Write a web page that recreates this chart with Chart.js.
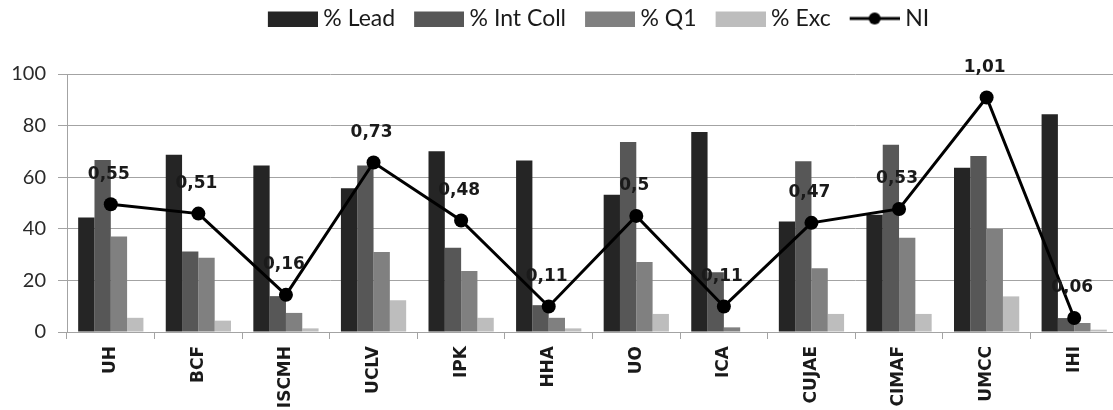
<!DOCTYPE html>
<html>
<head>
<meta charset="utf-8">
<script src="https://cdn.jsdelivr.net/npm/chart.js@4/dist/chart.umd.min.js"></script>
<style>
  html, body { margin: 0; padding: 0; background: #fff; overflow: hidden; }
</style>
</head>
<body>
<canvas id="chart" width="1125" height="410"></canvas>
<script>
const categories = ["UH", "BCF", "ISCMH", "UCLV", "IPK", "HHA", "UO", "ICA", "CUJAE", "CIMAF", "UMCC", "IHI"];
const leadValues = [44.4, 68.7, 64.5, 55.7, 70.1, 66.5, 53.2, 77.5, 42.8, 45.4, 63.7, 84.4];
const intCollValues = [66.7, 31.2, 13.9, 64.5, 32.7, 10.4, 73.6, 23.2, 66.2, 72.6, 68.2, 5.4];
const q1Values = [37.0, 28.8, 7.4, 31.0, 23.6, 5.5, 27.1, 1.8, 24.7, 36.5, 39.9, 3.5];
const excValues = [5.5, 4.4, 1.4, 12.3, 5.5, 1.4, 7.0, 0, 7.0, 7.0, 13.8, 0.9];
const niValues = [0.55, 0.51, 0.16, 0.73, 0.48, 0.11, 0.5, 0.11, 0.47, 0.53, 1.01, 0.06];
const yTicks = [0, 20, 40, 60, 80, 100];

const gridColor = "#a3a3a3";
const barColors = ["#252525", "#575757", "#808080", "#bdbdbd"];

// legend swatch: drawn with empty room on the left so items spread out
// while the text stays close to its box
function swatch(color, isLine) {
  const c = document.createElement("canvas");
  c.width = 68;
  c.height = 16;
  const g = c.getContext("2d");
  if (isLine) {
    g.strokeStyle = "#000";
    g.lineWidth = 3;
    g.beginPath();
    g.moveTo(18, 8);
    g.lineTo(68, 8);
    g.stroke();
    g.fillStyle = "#000";
    g.beginPath();
    g.arc(43, 8, 6, 0, Math.PI * 2);
    g.fill();
  } else {
    g.fillStyle = color;
    g.fillRect(18, 1, 50, 15);
  }
  return c;
}

const niLabels = {
  id: "niLabels",
  afterDatasetsDraw(chart) {
    const ctx = chart.ctx;
    const meta = chart.getDatasetMeta(4);
    ctx.save();
    ctx.font = "bold 17px 'DejaVu Sans'";
    ctx.fillStyle = "#1a1a1a";
    ctx.textAlign = "center";
    ctx.textBaseline = "middle";
    meta.data.forEach((pt, i) => {
      ctx.fillText(String(niValues[i]).replace(".", ","), pt.x - 2, pt.y - 30);
    });
    ctx.restore();
  },
};

// extra space under the legend
const legendGap = {
  id: "legendGap",
  beforeLayout(chart) {
    const lg = chart.legend;
    if (lg && !lg._gapPatched) {
      const fit = lg.fit;
      lg.fit = function () {
        fit.call(this);
        this.height += 34;
      };
      lg._gapPatched = true;
    }
  },
};

new Chart(document.getElementById("chart"), {
  type: "bar",
  data: {
    labels: categories,
    datasets: [
      { label: "% Lead", data: leadValues, backgroundColor: barColors[0] },
      { label: "% Int Coll", data: intCollValues, backgroundColor: barColors[1] },
      { label: "% Q1", data: q1Values, backgroundColor: barColors[2] },
      { label: "% Exc", data: excValues, backgroundColor: barColors[3] },
      {
        type: "line",
        label: "NI",
        data: niValues,
        yAxisID: "y1",
        order: -1,
        borderColor: "#000",
        borderWidth: 3,
        pointRadius: 7,
        pointBackgroundColor: "#000",
        pointBorderWidth: 0,
        tension: 0,
      },
    ],
  },
  options: {
    responsive: false,
    animation: false,
    datasets: {
      bar: { barPercentage: 1, categoryPercentage: 0.745, borderWidth: 0 },
    },
    plugins: {
      tooltip: { enabled: false },
      legend: {
        position: "top",
        fullSize: false,
        labels: {
          usePointStyle: true,
          pointStyleWidth: 56,
          boxHeight: 16,
          padding: 7,
          color: "#1a1a1a",
          font: { family: "Lato", size: 23 },
          generateLabels(chart) {
            const items = Chart.defaults.plugins.legend.labels.generateLabels(chart);
            items.sort((a, b) => a.datasetIndex - b.datasetIndex);
            items.forEach((it) => {
              const i = it.datasetIndex;
              it.pointStyle = i === 4 ? swatch("#000", true) : swatch(barColors[i], false);
            });
            return items;
          },
        },
      },
    },
    scales: {
      x: {
        grid: {
          offset: true,
          drawOnChartArea: false,
          tickLength: 7,
          color: gridColor,
        },
        border: { color: gridColor },
        ticks: {
          minRotation: 90,
          maxRotation: 90,
          padding: 7,
          color: "#1a1a1a",
          font: { family: "DejaVu Sans", size: 17, weight: "bold" },
        },
        afterFit(scale) {
          scale.height = 78;
        },
      },
      y: {
        min: 0,
        max: 100,
        afterBuildTicks(scale) {
          scale.ticks = yTicks.map((v) => ({ value: v }));
        },
        grid: { color: gridColor, tickLength: 9 },
        border: { color: gridColor },
        ticks: {
          padding: 12,
          color: "#2a2a2a",
          font: { family: "Lato", size: 20 },
        },
        afterFit(scale) {
          scale.width = 67;
        },
      },
      y1: {
        display: false,
        min: 0,
        max: 100 / 90,
      },
    },
  },
  plugins: [niLabels, legendGap],
});
</script>
</body>
</html>
